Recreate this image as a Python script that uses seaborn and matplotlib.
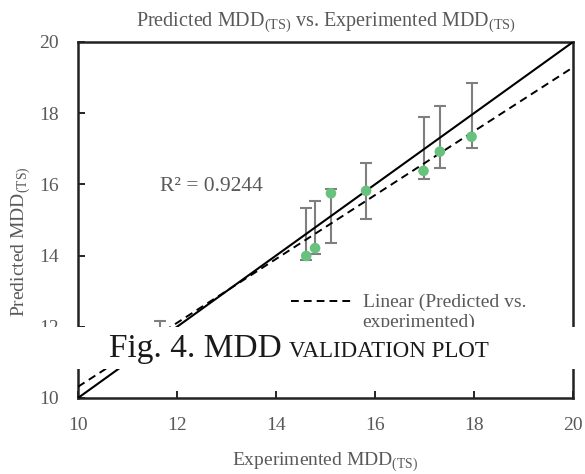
import matplotlib
matplotlib.use("Agg")
import matplotlib.pyplot as plt
from matplotlib.patches import Rectangle
from matplotlib.legend_handler import HandlerLine2D
import numpy as np
import pandas as pd
import seaborn as sns

# Experimented vs predicted MDD (TS) with lower/upper error bar ends
experimented = [11.66, 14.61, 14.79, 15.11, 15.82, 16.98, 17.31, 17.95]
predicted = [11.80, 13.99, 14.21, 15.75, 15.82, 16.38, 16.92, 17.34]
err_low_end = [11.35, 13.88, 14.04, 14.36, 15.03, 16.14, 16.45, 17.03]
err_high_end = [12.15, 15.33, 15.54, 15.87, 16.61, 17.90, 18.20, 18.85]
axis_range = [10, 20]
ticks = [10, 12, 14, 16, 18, 20]
r2_text = "R² = 0.9244"
trend_label = "Linear (Predicted vs.\nexperimented)"
identity_label = "Identity line (y = x)"

df = pd.DataFrame({"experimented": experimented, "predicted": predicted})

sns.set_theme(style="white")
plt.rcParams["font.family"] = ["Liberation Serif", "DejaVu Serif"]
plt.rcParams["mathtext.fontset"] = "custom"
plt.rcParams["mathtext.rm"] = "Liberation Serif"

GRAY = "#595959"
W, H = 585, 474


class FirstLineHandler(HandlerLine2D):
    """Legend line drawn level with the first line of a wrapped label."""

    def __init__(self, shift, **kw):
        super().__init__(**kw)
        self.shift = shift

    def create_artists(self, legend, orig_handle, xdescent, ydescent, width,
                       height, fontsize, trans):
        artists = super().create_artists(legend, orig_handle, xdescent, ydescent,
                                         width, height, fontsize, trans)
        for a in artists:
            a.set_ydata(np.asarray(a.get_ydata()) + self.shift)
        return artists


fig = plt.figure(figsize=(W / 100, H / 100), dpi=100)
ax = fig.add_axes([78 / W, 1 - 398 / H, (573 - 78) / W, (398 - 42) / H])
ax.set_xlim(*axis_range)
ax.set_ylim(*axis_range)

# error bars
yerr = np.array([np.array(predicted) - np.array(err_low_end),
                 np.array(err_high_end) - np.array(predicted)])
ax.errorbar(experimented, predicted, yerr=yerr, fmt="none", ecolor="#7F7F7F",
            elinewidth=1.5, capsize=4.2, capthick=1.5, zorder=2)

# identity line
sns.lineplot(x=axis_range, y=axis_range, color="black", lw=1.5, ax=ax,
             zorder=3, label=identity_label)

# linear trendline
sns.regplot(data=df, x="experimented", y="predicted", scatter=False, ci=None,
            truncate=False, ax=ax, label=trend_label,
            line_kws=dict(color="black", ls=(0, (4, 2.6)), lw=1.4, zorder=3))

# points
sns.scatterplot(data=df, x="experimented", y="predicted", color="#66C27C",
                s=58, edgecolor="none", ax=ax, zorder=4)

ax.set_xlim(*axis_range)
ax.set_ylim(*axis_range)
ax.set_xticks(ticks)
ax.set_yticks(ticks)
ax.tick_params(axis="both", direction="in", length=5, width=1.2, color="black",
               labelsize=14, labelcolor=GRAY, pad=14)
ax.tick_params(axis="x", top=False, bottom=True)
ax.tick_params(axis="y", left=True, right=False)
for s in ax.spines.values():
    s.set_color("#222222")
    s.set_linewidth(1.8)

ax.set_xlabel(r"Experimented MDD$_{\mathregular{(TS)}}$", fontsize=14, color=GRAY)
ax.set_ylabel(r"Predicted MDD$_{\mathregular{(TS)}}$", fontsize=14, color=GRAY)
ax.xaxis.set_label_coords(0.5, -0.148)
ax.yaxis.set_label_coords(-0.090, 0.44)
ax.set_title(r"Predicted MDD$_{\mathregular{(TS)}}$ vs. Experimented MDD$_{\mathregular{(TS)}}$",
             fontsize=14.5, color=GRAY, pad=11)

ax.text(11.66, 15.95, r2_text, fontsize=15.5, color=GRAY, va="center", ha="left")

handles, labels = ax.get_legend_handles_labels()
lookup = dict(zip(labels, handles))
ax.legend([lookup[trend_label], lookup[identity_label]],
          [trend_label, identity_label],
          loc="upper left", bbox_to_anchor=(283 / W, 1 - 286 / H),
          bbox_transform=fig.transFigure, frameon=False, fontsize=14,
          labelcolor=GRAY, handlelength=3.1, handletextpad=0.6,
          labelspacing=0.35, borderaxespad=0,
          handler_map={lookup[trend_label]: FirstLineHandler(shift=8.0)})

# caption band across the figure
fig.patches.append(Rectangle((0, 1 - 369 / H), 1, (369 - 327) / H,
                             transform=fig.transFigure, facecolor="white",
                             edgecolor="none", zorder=10))
base_y = 1 - 357 / H
t1 = fig.text(109 / W, base_y, "Fig. 4. MDD", fontsize=24, color="#1a1a1a",
              va="baseline", ha="left", zorder=11)
fig.canvas.draw()
bb = t1.get_window_extent()
fig.text((bb.x1 + 7) / W, base_y, "VALIDATION PLOT", fontsize=16.5,
         color="#1a1a1a", va="baseline", ha="left", zorder=11)

fig.savefig("out.png", dpi=100)
